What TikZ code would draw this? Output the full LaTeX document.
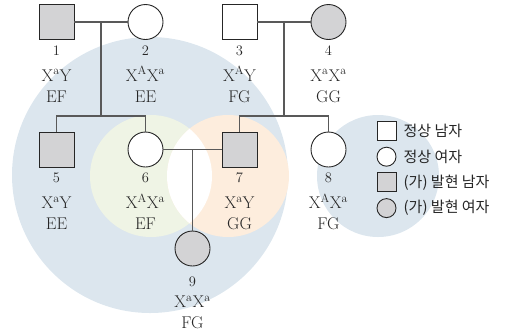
\documentclass[tikz,border=0pt]{standalone}
\usepackage{fontspec}
\newfontfamily\kor{Noto Sans CJK KR}
\usetikzlibrary{positioning,calc}
\definecolor{bgblue}{HTML}{DCE6EE}
\definecolor{bggreen}{HTML}{EFF4E5}
\definecolor{bgorange}{HTML}{FDEDDD}
\definecolor{affect}{HTML}{D3D3D5}
\definecolor{ink}{HTML}{262626}
\newcommand{\Xg}[1]{X\textsuperscript{#1}}

\begin{document}
\begin{tikzpicture}[x=1pt,y=-1pt,
 male/.style={rectangle,draw=ink,line width=.9pt,minimum size=35pt,inner sep=0pt},
 female/.style={male,circle},
 link/.style={draw=black!65,line width=1.1pt},
 numtxt/.style={text=ink,inner sep=0pt,anchor=base,font=\fontsize{14.5}{16}\selectfont},
 gentxt/.style={text=ink,inner sep=0pt,anchor=base,font=\fontsize{17}{19}\selectfont},
 legtxt/.style={text=ink,inner sep=0pt,font=\kor\fontsize{15}{17}\selectfont}]
 \useasboundingbox (0,0) rectangle (505,333);
 \fill[bgblue] (150,175) circle (138);
 \fill[bggreen] (151,176) circle (61);
 \fill[bgorange] (228,176) circle (61);
 \begin{scope}\clip (151,176) circle (61);\fill[white] (228,176) circle (61);\end{scope}
 \fill[bgblue] (378,176) circle (61);
 \foreach \n/\x/\y/\s/\f/\g/\b/\o in {1/56.5/22/male/affect/{\Xg{a}Y}/EF/33,
   2/145.5/22/female/white/{\Xg{A}\Xg{a}}/EE/33,
   3/239.5/22/male/white/{\Xg{A}Y}/FG/33,
   4/328.5/22/female/affect/{\Xg{a}\Xg{a}}/GG/33,
   5/56.5/149.5/male/affect/{\Xg{a}Y}/EE/33,
   6/145.5/149.5/female/white/{\Xg{A}\Xg{a}}/EF/33,
   7/239.5/149.5/male/affect/{\Xg{a}Y}/GG/33,
   8/328.5/149.5/female/white/{\Xg{A}\Xg{a}}/FG/33,
   9/192.5/248.5/female/affect/{\Xg{a}\Xg{a}}/FG/38}{
  \node[\s,fill=\f] (n\n) at (\x,\y) {};
  \node[numtxt] (num\n) at (\x,\y+\o) {\n};
  \node[gentxt] (gen\n) at (\x,\y+59) {\g};
  \node[gentxt] (bl\n) at (\x,\y+80) {\b};
 }
 \coordinate (s1) at (101,116);
 \coordinate (s2) at (284,116);
 \draw[link] (n1) -- (n2) ($(n1)!.5!(n2)$) -- (s1);
 \draw[link] (n5) |- (s1) -| (n6);
 \draw[link] (n3) -- (n4) ($(n3)!.5!(n4)$) -- (s2);
 \draw[link] (n7) |- (s2) -| (n8);
 \draw[link] (n6) -- (n7) ($(n6)!.5!(n7)$) -- (n9);
 \foreach \s/\f/\t [count=\i] in {male/white/정상 남자,female/white/정상 여자,
   male/affect/(가) 발현 남자,female/affect/(가) 발현 여자}{
  \node[\s,fill=\f,minimum size=19pt] (k\i) at (386.5,105.3+25.7*\i) {};
  \node[legtxt,right=7pt of k\i] (t\i) {\t};
 }
\end{tikzpicture}
\end{document}
